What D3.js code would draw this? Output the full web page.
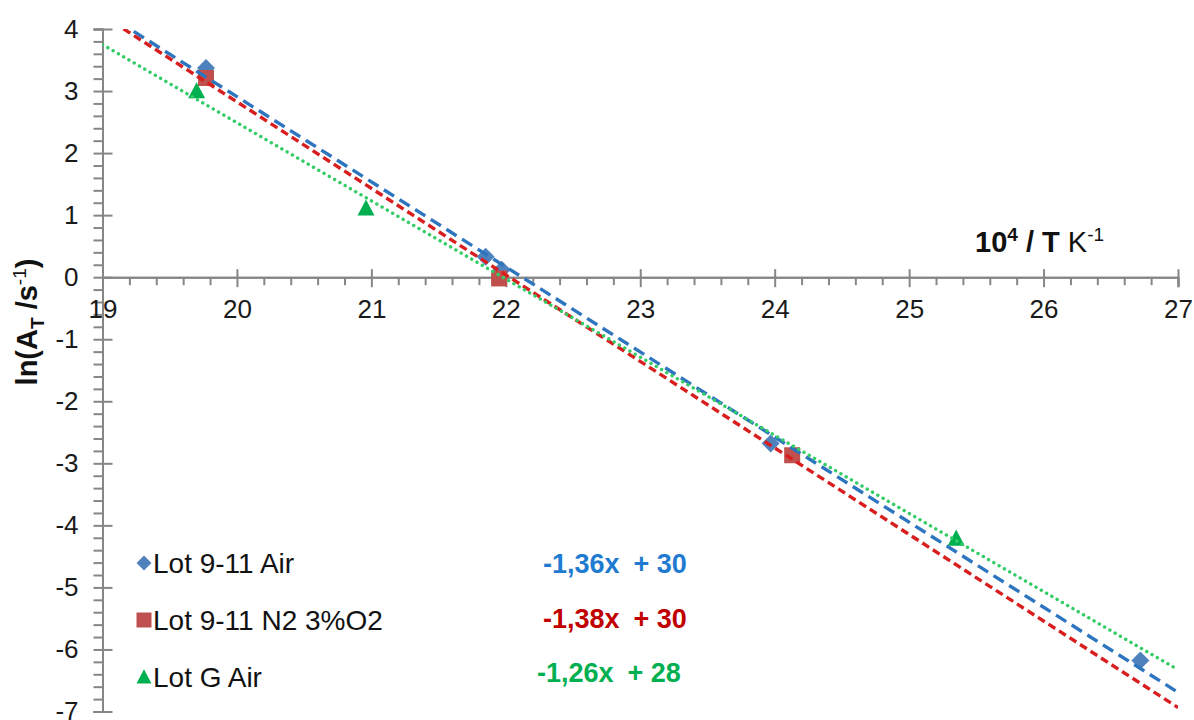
<!DOCTYPE html>
<html>
<head>
<meta charset="utf-8">
<script src="https://cdn.jsdelivr.net/npm/d3@7"></script>
<style>
  html, body { margin: 0; padding: 0; background: #fff; }
  svg { display: block; font-family: "Liberation Sans", Arial, sans-serif; }
</style>
</head>
<body>
<svg id="chart" width="1194" height="720"></svg>
<script>
// ---- data ----
const seriesNames = ["Lot 9-11 Air", "Lot 9-11 N2 3%O2", "Lot G Air"];
const lot911AirX = [19.77, 21.85, 21.97, 23.97, 26.72];
const lot911AirY = [3.37, 0.33, 0.12, -2.68, -6.18];
const lot911N2X = [19.77, 21.95, 24.13];
const lot911N2Y = [3.21, -0.02, -2.87];
const lotGAirX = [19.70, 20.96, 25.35];
const lotGAirY = [3.00, 1.11, -4.21];
const equations = ["-1,36x", "-1,38x", "-1,26x"];
const intercepts = ["+ 30", "+ 30", "+ 28"];
const xTicks = [19, 20, 21, 22, 23, 24, 25, 26, 27];
const yTicks = [4, 3, 2, 1, 0, -1, -2, -3, -4, -5, -6, -7];

// ---- layout ----
const svg = d3.select("#chart");
const X0 = 102.5, X1 = 1178, Y0 = 29, Y1 = 711.5;
const x = d3.scaleLinear().domain([19, 27]).range([X0, X1]);
const y = d3.scaleLinear().domain([4, -7]).range([Y0, Y1]);
const axisColor = "#868686";
const fontSize = 26;

const styles = [
  { marker: "diamond", fill: "#4F81BD", line: "#2E75C0", dash: "12,6.5", width: 3.4, cap: "butt", eq: "#1F7BD0" },
  { marker: "square",  fill: "#C0504D", line: "#D81E1E", dash: "8,4.5", width: 3.4, cap: "butt", eq: "#C00000" },
  { marker: "triangle",fill: "#00B050", line: "#33CC66", dash: "0.1,6", width: 3.4, cap: "round", eq: "#00B050" }
];
const series = [
  { xs: lot911AirX, ys: lot911AirY },
  { xs: lot911N2X, ys: lot911N2Y },
  { xs: lotGAirX, ys: lotGAirY }
];

function markerPath(type, s) {
  if (type === "diamond") return `M0,${-s}L${s},0L0,${s}L${-s},0Z`;
  if (type === "square") return `M${-s},${-s}H${s}V${s}H${-s}Z`;
  const h = s * 1.9;
  return `M0,${-h * 0.55}L${s},${h * 0.45}L${-s},${h * 0.45}Z`;
}
const markerSize = { diamond: 9, square: 8, triangle: 8.5 };
const legendMarkerSize = { diamond: 7.5, square: 7.5, triangle: 7.5 };

function regression(xs, ys) {
  const n = xs.length;
  const mx = d3.mean(xs), my = d3.mean(ys);
  let sxy = 0, sxx = 0;
  for (let i = 0; i < n; i++) { sxy += (xs[i] - mx) * (ys[i] - my); sxx += (xs[i] - mx) ** 2; }
  const b = sxy / sxx;
  return { b, a: my - b * mx };
}

// clip
svg.append("defs").append("clipPath").attr("id", "plot")
  .append("rect").attr("x", X0).attr("y", Y0).attr("width", X1 - X0).attr("height", Y1 - Y0);

// ---- axes ----
const yMinor = d3.range(-7, 4.0001, 0.2).filter(v => Math.abs(v - Math.round(v)) > 1e-6);
const xMinor = d3.range(19, 27.0001, 0.2).filter(v => Math.abs(v - Math.round(v)) > 1e-6);

const yAxisMinor = d3.axisLeft(y).tickValues(yMinor).tickSize(9).tickFormat("");
const yAxisMajor = d3.axisLeft(y).tickValues(yTicks).tickSize(9).tickFormat(d => d);
const xAxisMinor = d3.axisBottom(x).tickValues(xMinor).tickSize(8).tickFormat("");
const xAxisMajor = d3.axisBottom(x).tickValues(xTicks).tickSize(10).tickFormat(d => d);

function styleAxis(g) {
  g.select(".domain").attr("stroke", axisColor).attr("stroke-width", 2);
  g.selectAll(".tick line").attr("stroke", axisColor).attr("stroke-width", 2);
  g.selectAll(".tick text").attr("fill", "#1a1a1a").style("font-size", fontSize + "px")
    .style("font-family", '"Liberation Sans", Arial, sans-serif');
}

const gy = svg.append("g").attr("transform", `translate(${X0},0)`);
gy.append("g").call(yAxisMinor).call(styleAxis);
gy.append("g").call(yAxisMajor).call(styleAxis).call(g => {
  g.selectAll(".tick line").attr("x2", 10).attr("x1", -9);
  g.selectAll(".tick text").attr("x", -24);
});

const gx = svg.append("g").attr("transform", `translate(0,${y(0)})`);
gx.append("g").call(xAxisMinor).call(styleAxis);
gx.append("g").call(xAxisMajor).call(styleAxis).call(g => {
  g.selectAll(".tick line").attr("y1", -8).attr("y2", 10);
  g.selectAll(".tick text").attr("y", 22);
});

// ---- markers ----
series.forEach((s, i) => {
  svg.append("g").selectAll("path").data(s.xs.map((v, k) => [v, s.ys[k]])).join("path")
    .attr("d", markerPath(styles[i].marker, markerSize[styles[i].marker]))
    .attr("transform", d => `translate(${x(d[0])},${y(d[1])})`)
    .attr("fill", styles[i].fill);
});

// ---- trendlines ----
const lineGen = d3.line().x(d => x(d[0])).y(d => y(d[1]));
series.forEach((s, i) => {
  const r = regression(s.xs, s.ys);
  const pts = [[19, r.a + r.b * 19], [27, r.a + r.b * 27]];
  svg.append("path").attr("clip-path", "url(#plot)")
    .attr("d", lineGen(pts))
    .attr("fill", "none")
    .attr("stroke", styles[i].line)
    .attr("stroke-width", styles[i].width)
    .attr("stroke-dasharray", styles[i].dash)
    .attr("stroke-linecap", styles[i].cap);
});

// ---- legend ----
const legendY = [563, 620, 677];
seriesNames.forEach((name, i) => {
  svg.append("path")
    .attr("d", markerPath(styles[i].marker, legendMarkerSize[styles[i].marker]))
    .attr("transform", `translate(144,${legendY[i]})`)
    .attr("fill", styles[i].fill);
  svg.append("text").attr("x", 153).attr("y", legendY[i])
    .attr("dy", "0.36em").attr("fill", "#111")
    .style("font-size", "28px").text(name);
});

// ---- equations ----
const eqY = [563, 618, 672];
const eqLeft = [543, 543, 537];
equations.forEach((t, i) => {
  const tx = svg.append("text").attr("x", eqLeft[i]).attr("y", eqY[i])
    .attr("dy", "0.36em")
    .attr("fill", styles[i].eq).attr("font-weight", "bold")
    .style("font-size", "27px");
  tx.append("tspan").text(t);
  tx.append("tspan").attr("dx", 14).text(intercepts[i]);
});

// ---- axis titles ----
const xt = svg.append("text").attr("x", 975).attr("y", 252).attr("fill", "#111").style("font-size", "29px");
xt.append("tspan").attr("font-weight", "bold").text("10");
xt.append("tspan").attr("font-weight", "bold").attr("dy", -11).style("font-size", "19px").text("4");
xt.append("tspan").attr("font-weight", "bold").attr("dy", 11).style("white-space", "pre").text(" / T");
xt.append("tspan").style("white-space", "pre").text(" K");
xt.append("tspan").attr("dy", -11).style("font-size", "19px").text("-1");

const yt = svg.append("text")
  .attr("transform", "translate(37,322) rotate(-90)")
  .attr("text-anchor", "middle").attr("fill", "#111")
  .attr("font-weight", "bold").style("font-size", "29px");
yt.append("tspan").text("ln(A");
yt.append("tspan").attr("dy", 7).style("font-size", "19px").text("T");
yt.append("tspan").attr("dy", -7).style("white-space", "pre").text(" /s");
yt.append("tspan").attr("dy", -11).style("font-size", "19px").attr("font-weight", "normal").text("-1");
yt.append("tspan").attr("dy", 11).text(")");
</script>
</body>
</html>
